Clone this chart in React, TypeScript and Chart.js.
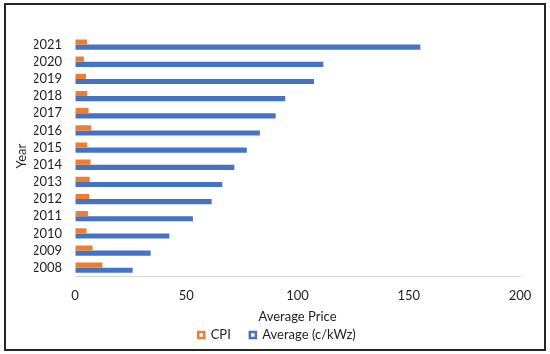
import React, { useEffect, useRef } from "react";
import { Chart, registerables } from "chart.js";

Chart.register(...registerables);

const years = ["2008", "2009", "2010", "2011", "2012", "2013", "2014", "2015", "2016", "2017", "2018", "2019", "2020", "2021"];
const cpiValues = [12.3, 7.9, 5.2, 5.8, 6.4, 6.6, 7.0, 5.5, 7.3, 6.1, 5.5, 4.9, 4.0, 5.4];
const averageValues = [25.9, 34.0, 42.4, 53.0, 61.4, 66.2, 71.6, 77.2, 83.1, 90.2, 94.5, 107.4, 111.6, 155.2];
const xTickValues = [0, 50, 100, 150, 200];

const seriesNames = ["CPI", "Average (c/kWz)"];
const seriesColors = ["#ED7D31", "#4472C4"];

const FONT = "Lato, 'Open Sans', sans-serif";
const FS = 13;
const TEXT = "#1f1f1f";

const framePlugin = {
  id: "frame",
  beforeDraw(chart: any) {
    const ctx = chart.ctx;
    ctx.save();
    ctx.fillStyle = "#ffffff";
    ctx.fillRect(0, 0, chart.width, chart.height);
    ctx.restore();
  },
  afterDraw(chart: any) {
    const ctx = chart.ctx;
    ctx.save();
    ctx.strokeStyle = "#262626";
    ctx.lineWidth = 2;
    ctx.strokeRect(5, 4, 540, 346);
    ctx.restore();
  },
};

export default function App() {
  const canvasRef = useRef<HTMLCanvasElement | null>(null);

  useEffect(() => {
    document.body.style.margin = "0";
    const canvas = canvasRef.current;
    if (!canvas) return;
    const chart = new Chart(canvas, {
      type: "bar",
      data: {
        labels: years,
        datasets: [
          {
            label: seriesNames[0],
            data: cpiValues,
            backgroundColor: seriesColors[0],
            borderWidth: 0,
            categoryPercentage: 0.6,
            barPercentage: 1.0,
          },
          {
            label: seriesNames[1],
            data: averageValues,
            backgroundColor: seriesColors[1],
            borderWidth: 0,
            categoryPercentage: 0.6,
            barPercentage: 1.0,
          },
        ],
      },
      options: {
        indexAxis: "y",
        responsive: false,
        animation: false,
        devicePixelRatio: 1,
        layout: { padding: { top: 36, left: 34, right: 30, bottom: 2.5 } },
        plugins: {
          tooltip: { enabled: false },
          title: { display: false },
          legend: {
            display: true,
            position: "bottom",
            labels: {
              font: { family: FONT, size: FS },
              color: TEXT,
              boxWidth: 6,
              boxHeight: 6,
              padding: 19,
              generateLabels: (c: any) =>
                c.data.datasets.map((ds: any, i: number) => ({
                  text: ds.label,
                  fillStyle: "#ffffff",
                  strokeStyle: seriesColors[i],
                  lineWidth: 2.5,
                  hidden: false,
                  datasetIndex: i,
                  fontColor: TEXT,
                })),
            },
          },
        },
        scales: {
          x: {
            type: "linear",
            min: 0,
            max: 200,
            afterBuildTicks: (scale: any) => {
              scale.ticks = xTickValues.map((v) => ({ value: v }));
            },
            afterFit: (scale: any) => {
              scale.height = 33.2;
            },
            ticks: {
              font: { family: FONT, size: FS },
              color: TEXT,
              padding: 11.5,
            },
            grid: { color: "rgba(0,0,0,0)", drawTicks: false },
            border: { display: true, color: "#d9d9d9", width: 1 },
            title: {
              display: true,
              text: "Average Price",
              font: { family: FONT, size: FS },
              color: TEXT,
              padding: { top: 0, bottom: -15.3 },
            },
          },
          y: {
            type: "category",
            reverse: true,
            afterFit: (scale: any) => {
              scale.width = 41;
            },
            ticks: {
              font: { family: FONT, size: FS },
              color: TEXT,
              padding: 13,
              autoSkip: false,
            },
            grid: { display: false, drawTicks: false },
            border: { display: false },
            title: {
              display: true,
              text: "Year",
              font: { family: FONT, size: FS },
              color: TEXT,
              padding: { top: -19.8, bottom: 0 },
            },
          },
        },
      },
      plugins: [framePlugin],
    });
    return () => chart.destroy();
  }, []);

  return (
    <div style={{ position: "absolute", left: 0, top: 0, width: 550, height: 354 }}>
      <canvas ref={canvasRef} width={550} height={354} style={{ display: "block", width: 550, height: 354 }} />
    </div>
  );
}
